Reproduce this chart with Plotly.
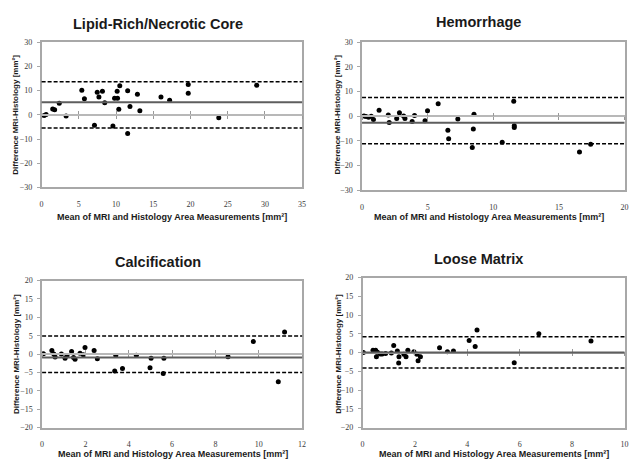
import plotly.graph_objects as go

# ---------------- data ----------------
titles = ["Lipid-Rich/Necrotic Core", "Hemorrhage", "Calcification", "Loose Matrix"]
x_title = "Mean of MRI and Histology Area Measurements [mm²]"
y_title = "Difference MRI-Histology [mm²]"

lipid_x = [0.34, 0.6, 1.49, 1.75, 2.37, 3.29, 5.4, 5.75, 7.1, 7.47, 7.7, 8.17, 8.48, 9.58,
           9.8, 10.2, 10.15, 10.5, 10.37, 11.56, 11.56, 11.87, 12.87, 13.2, 16.04, 17.2,
           19.7, 19.7, 23.8, 28.9]
lipid_y = [-0.3, 0.1, 2.4, 2.1, 4.8, -0.5, 10.2, 6.6, -4.3, 9.3, 7.4, 9.7, 5.0, -4.6,
           6.9, 6.9, 9.7, 12.0, 2.3, -7.7, 9.9, 3.4, 8.5, 1.7, 7.4, 6.0,
           12.5, 8.9, -1.2, 12.2]
lipid_stats = [5.2, 13.7, -5.4]   # mean, upper limit, lower limit

hem_x = [0.15, 0.3, 0.5, 0.7, 0.87, 1.3, 2.0, 2.07, 2.64, 2.85, 3.17, 3.27, 3.82, 4.0,
         4.8, 4.99, 5.8, 6.54, 6.6, 7.3, 8.53, 8.48, 8.4, 10.68, 11.56, 11.6, 11.6,
         16.57, 17.42]
hem_y = [0.1, -0.1, -0.4, 0.0, -1.3, 2.4, 0.5, -2.5, -0.9, 1.4, 0.1, -0.9, -2.1, 0.3,
         -1.8, 2.2, 5.1, -5.7, -9.1, -1.1, 0.8, -5.1, -12.6, -10.5, 6.1, -3.8, -4.5,
         -14.5, -11.3]
hem_stats = [-2.6, 7.6, -11.1]

calc_x = [0.06, 0.45, 0.54, 0.6, 0.89, 1.06, 1.15, 1.36, 1.45, 1.52, 1.75, 1.9, 1.98,
          2.4, 2.55, 3.4, 3.35, 3.71, 4.35, 4.98, 5.03, 5.59, 5.62, 8.58, 9.75, 10.9, 11.19]
calc_y = [0.1, 1.0, 0.0, -0.8, 0.0, -1.15, -0.35, 0.7, -0.9, -1.4, 0.2, -0.2, 1.8,
          1.0, -1.25, -0.4, -4.6, -3.9, -0.3, -3.7, -1.1, -5.3, -1.1, -0.7, 3.4, -7.5, 6.0]
calc_stats = [-0.9, 4.9, -5.0]

loose_x = [0.03, 0.4, 0.5, 0.53, 0.57, 0.68, 0.75, 0.88, 1.1, 1.19, 1.33, 1.39, 1.38,
           1.58, 1.66, 1.73, 1.96, 2.08, 2.12, 2.21, 2.94, 3.24, 3.47, 4.07, 4.3, 4.37,
           5.79, 6.73, 8.72]
loose_y = [0.0, 0.6, 0.6, -1.1, 0.1, -0.35, -0.35, -0.25, -0.1, 1.9, 0.45, -1.1, -2.8,
           -0.45, -1.1, 0.6, 0.25, -0.45, -2.2, -1.1, 1.3, 0.25, 0.45, 3.2, 1.65, 6.0,
           -2.7, 5.0, 3.1]
loose_stats = [0.05, 4.2, -4.1]

x_ranges = [[0, 35], [0, 20], [0, 12], [0, 10]]
x_dticks = [5, 5, 2, 2]
y_ranges = [[-30, 30], [-30, 30], [-20, 20], [-20, 20]]
y_dticks = [10, 10, 5, 5]

# ---------------- layout geometry (pixels) ----------------
W, H = 630, 465
# plot areas: left, right, top, bottom
boxes = [(40, 303, 39, 187), (363.5, 628.5, 39, 190), (40.5, 303, 282, 432), (364, 628.5, 279, 432)]
title_pos = [(157, 20), (481, 18), (157, 263), (481, 260)]
xt_pos = [(172, 217), (492, 217), (173, 459), (497, 459)]
yt_pos = [(14, 113), (339, 113), (14, 357), (339, 357)]

xs = [lipid_x, hem_x, calc_x, loose_x]
ys = [lipid_y, hem_y, calc_y, loose_y]
stats = [lipid_stats, hem_stats, calc_stats, loose_stats]

fig = go.Figure()
layout = dict(width=W, height=H, margin=dict(l=0, r=0, t=0, b=0),
              paper_bgcolor="white", plot_bgcolor="white", showlegend=False)

frame = "#a8a8a8"
tickfont = dict(family="Liberation Serif", size=8, color="#3a3a3a")
annotations = []
shapes = []

for i in range(4):
    n = i + 1
    l, r, t, b = boxes[i]
    xd = [l / W, r / W]
    yd = [1 - b / H, 1 - t / H]
    xa = "xaxis" if n == 1 else f"xaxis{n}"
    ya = "yaxis" if n == 1 else f"yaxis{n}"
    xref = "x" if n == 1 else f"x{n}"
    yref = "y" if n == 1 else f"y{n}"
    layout[xa] = dict(domain=xd, anchor=yref, range=x_ranges[i], dtick=x_dticks[i], tick0=0,
                      showline=True, linecolor=frame, linewidth=1.5, mirror=True,
                      ticks="", showgrid=False, zeroline=False, tickfont=tickfont,
                      ticklabelstandoff=8, ticklabeloverflow="allow")
    layout[ya] = dict(domain=yd, anchor=xref, range=y_ranges[i], dtick=y_dticks[i], tick0=0,
                      showline=True, linecolor=frame, linewidth=1.5, mirror=True,
                      ticks="outside", ticklen=3, tickcolor=frame, tickwidth=1,
                      showgrid=False, zeroline=False, tickfont=tickfont, ticklabelstandoff=3)
    # zero-crossing axis with tick marks (Excel style)
    for k, tk in enumerate(["outside", "inside"]):
        m = 4 + n + 4 * k
        xo = f"xaxis{m}"
        layout[xo] = dict(overlaying=xref, anchor="free", position=(yd[0] + yd[1]) / 2,
                          range=x_ranges[i], dtick=x_dticks[i], tick0=0,
                          showline=True, linecolor="#b8b8b8", linewidth=1.5,
                          ticks=tk, ticklen=3, tickcolor="#999999", tickwidth=1,
                          showticklabels=False, showgrid=False, zeroline=False)
        fig.add_trace(go.Scatter(x=[], y=[], xaxis=f"x{m}", yaxis=yref, hoverinfo="skip"))

    mean, up, lo = stats[i]
    shapes.append(dict(type="line", xref=f"{xref} domain", yref=yref, x0=0, x1=1, y0=mean, y1=mean,
                       line=dict(color="#5e5e5e", width=2)))
    for v in (up, lo):
        shapes.append(dict(type="line", xref=f"{xref} domain", yref=yref, x0=0, x1=1, y0=v, y1=v,
                           line=dict(color="black", width=1.5, dash="4px,2px")))

    fig.add_trace(go.Scatter(x=xs[i], y=ys[i], mode="markers", xaxis=xref, yaxis=yref,
                             marker=dict(symbol="circle", size=5, color="black")))

    tx, ty = title_pos[i]
    annotations.append(dict(text=f"<b>{titles[i]}</b>", x=tx / W, y=1 - ty / H, xref="paper",
                            yref="paper", showarrow=False, xanchor="center", yanchor="middle",
                            font=dict(family="Liberation Sans", size=14.5, color="#1a1a1a")))
    ax_, ay_ = xt_pos[i]
    annotations.append(dict(text=f"<b>{x_title}</b>", x=ax_ / W, y=1 - ay_ / H, xref="paper",
                            yref="paper", showarrow=False, xanchor="center", yanchor="middle",
                            font=dict(family="Liberation Sans", size=9, color="#1a1a1a")))
    bx, by = yt_pos[i]
    annotations.append(dict(text=f"<b>{y_title}</b>", x=bx / W, y=1 - by / H, xref="paper",
                            yref="paper", showarrow=False, xanchor="center", yanchor="middle",
                            textangle=-90,
                            font=dict(family="Liberation Sans", size=8, color="#1a1a1a")))

layout["annotations"] = annotations
layout["shapes"] = shapes
fig.update_layout(**layout)
fig.write_html("out.html", config={"displayModeBar": False},
               post_script="document.body.style.margin='0px';")
